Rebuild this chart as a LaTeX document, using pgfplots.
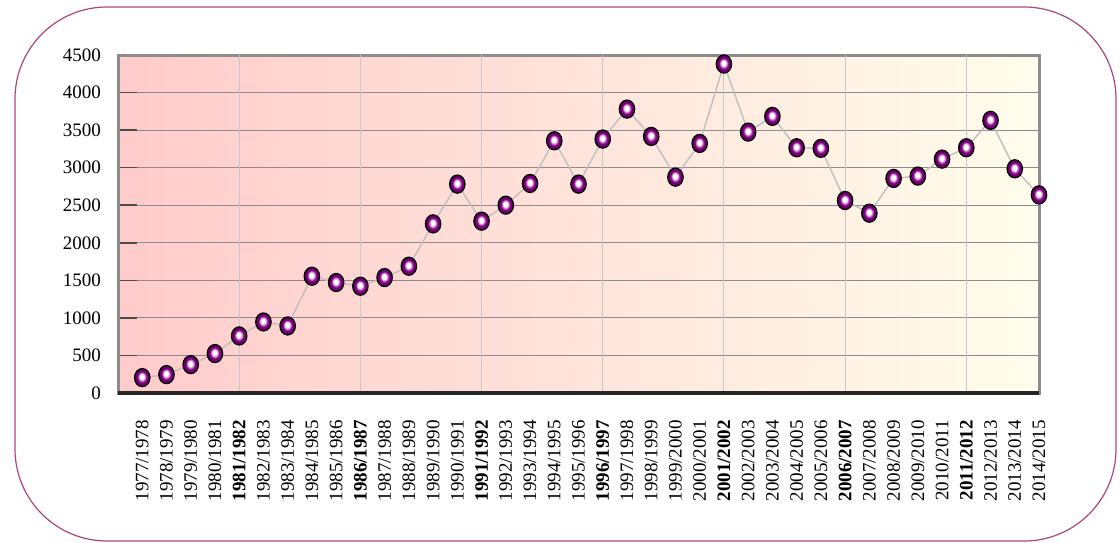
\documentclass[border=0pt]{standalone}
\usepackage{pgfplots}
\usepackage{pgfplotstable}
\pgfplotsset{compat=1.18}
\usepackage{fontspec}
\setmainfont{Liberation Serif}
\definecolor{framec}{RGB}{170,70,125}
\definecolor{bgL}{RGB}{255,203,203}
\definecolor{bgR}{RGB}{255,253,236}
\definecolor{ballc}{RGB}{135,0,135}

\pgfdeclareradialshading{pballshade}{\pgfpoint{-2bp}{3.5bp}}{%
  color(0bp)=(white); color(6.5bp)=(white); color(10.5bp)=(ballc!45); color(15bp)=(ballc); color(22bp)=(ballc!70!black); color(27bp)=(black)}
\pgfdeclareplotmark{pball}{%
  \pgfpathellipse{\pgfpointorigin}{\pgfqpoint{0.92\pgfplotmarksize}{0pt}}{\pgfqpoint{0pt}{1.08\pgfplotmarksize}}%
  \pgfshadepath{pballshade}{0}%
  \pgfusepathqstroke}

\pgfplotstableread{
x y
0 205
1 245
2 378
3 525
4 760
5 946
6 893
7 1555
8 1471
9 1422
10 1537
11 1688
12 2252
13 2781
14 2288
15 2501
16 2790
17 3358
18 2781
19 3381
20 3780
21 3416
22 2874
23 3323
24 4380
25 3474
26 3683
27 3265
28 3257
29 2563
30 2394
31 2857
32 2888
33 3114
34 3265
35 3630
36 2985
37 2638
}\data

\begin{document}
\begin{tikzpicture}
\useasboundingbox (0,0) rectangle (560pt,271pt);
\draw[framec, line width=0.6pt, rounded corners=46pt] (7.5pt,0.5pt) rectangle (558pt,267.5pt);
\begin{axis}[
  at={(59pt,74.5pt)}, anchor=south west,
  scale only axis, width=460.5pt, height=169pt,
  xmin=-1, xmax=37, ymin=0, ymax=4500,
  ytick={0,500,...,4500},
  xtick={0,...,37},
  xticklabels={1977/1978,1978/1979,1979/1980,1980/1981,\textbf{1981/1982},1982/1983,1983/1984,1984/1985,1985/1986,\textbf{1986/1987},1987/1988,1988/1989,1989/1990,1990/1991,\textbf{1991/1992},1992/1993,1993/1994,1994/1995,1995/1996,\textbf{1996/1997},1997/1998,1998/1999,1999/2000,2000/2001,\textbf{2001/2002},2002/2003,2003/2004,2004/2005,2005/2006,\textbf{2006/2007},2007/2008,2008/2009,2009/2010,2010/2011,\textbf{2011/2012},2012/2013,2013/2014,2014/2015},
  x tick label style={rotate=90, anchor=east, font=\fontsize{9.5pt}{11pt}\selectfont},
  y tick label style={font=\fontsize{9.5pt}{11pt}\selectfont},
  xticklabel shift=10pt,
  yticklabel shift=5pt,
  /pgf/number format/assume math mode=true,
  /pgf/number format/set thousands separator={},
  xtick style={draw=none},
  ytick style={draw=black!70, line width=0.8pt},
  major tick length=9.5pt,
  tick align=inside,
  tick pos=left,
  ymajorgrids,
  major grid style={draw=black!45, line width=0.5pt},
  extra x ticks={4,9,14,19,24,29,34},
  extra x tick labels={},
  extra x tick style={grid=major, major grid style={draw=black!22, line width=0.5pt}, tick style={draw=black, line width=0.7pt}, major tick length=10.5pt},
  axis line style={draw=black!45, line width=1.5pt},
  axis background/.style={left color=bgL, right color=bgR},
  clip=false,
]
\addplot[draw=black!25, line width=0.7pt, mark=pball, mark size=4.2pt, mark options={draw=black, line width=0.6pt}] table[x=x,y=y] {\data};
\draw[black!85, line width=1.6pt] (rel axis cs:0,0) -- (rel axis cs:1,0);
\end{axis}
\end{tikzpicture}
\end{document}
